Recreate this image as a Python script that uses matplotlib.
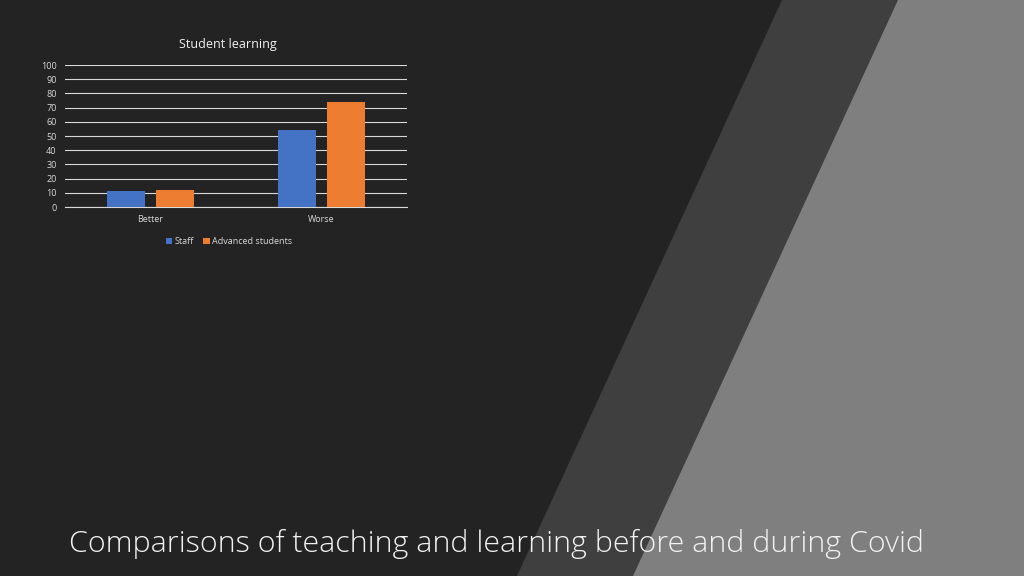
import matplotlib.pyplot as plt
from matplotlib.patches import Polygon
import numpy as np

categories = ['Better', 'Worse']
staff = [11, 54]
advanced = [12, 74]
series_names = ['Staff', 'Advanced students']

BG = '#232323'
fig = plt.figure(figsize=(10.24, 5.76), dpi=100, facecolor=BG)

# background slide decoration
bg = fig.add_axes([0, 0, 1, 1], zorder=0)
bg.set_xlim(0, 1024)
bg.set_ylim(576, 0)
bg.axis('off')
bg.add_patch(Polygon([(782, 0), (1024, 0), (1024, 576), (517, 576)], color='#3f3f3f', lw=0))
bg.add_patch(Polygon([(898, 0), (1024, 0), (1024, 576), (633, 576)], color='#7f7f7f', lw=0))
bg.text(69, 544, 'Comparisons of teaching and learning before and during Covid',
        color='#f2f2f2', fontsize=21.9, family='Open Sans', fontweight='light',
        ha='left', va='center')

# chart
ax = fig.add_axes([0.0635, 0.6406, 0.3340, 0.2465], zorder=1)
ax.set_facecolor('none')
x = np.arange(len(categories))
w = 0.222
ax.bar(x - 0.143, staff, w, color='#4472C4', label=series_names[0], zorder=3)
ax.bar(x + 0.143, advanced, w, color='#ED7D31', label=series_names[1], zorder=3)
ax.set_xlim(-0.5, 1.5)
ax.set_ylim(0, 100)
ax.set_yticks(range(0, 101, 10))
ax.set_xticks(x)
ax.set_xticklabels(categories)
ax.grid(axis='y', color='#d9d9d9', lw=0.8, zorder=0)
ax.axhline(0, color='#d9d9d9', lw=0.8, zorder=2, clip_on=False)
for s in ax.spines.values():
    s.set_visible(False)
ax.tick_params(length=0, colors='#d9d9d9', labelsize=6.5, pad=6)
ax.tick_params(axis='x', pad=6)
for lbl in ax.get_xticklabels() + ax.get_yticklabels():
    lbl.set_family('Open Sans')
ax.text(0.475, 1.145, 'Student learning', transform=ax.transAxes, ha='center', va='center',
        color='#f2f2f2', fontsize=9, family='Open Sans')
leg = ax.legend(loc='upper center', bbox_to_anchor=(0.48, -0.155), ncol=2, frameon=False,
                handlelength=0.7, handleheight=0.7, handletextpad=0.3,
                columnspacing=1.0, prop={'family': 'Open Sans', 'size': 6.5})
for t in leg.get_texts():
    t.set_color('#d9d9d9')

fig.savefig('out.png', facecolor=BG)
